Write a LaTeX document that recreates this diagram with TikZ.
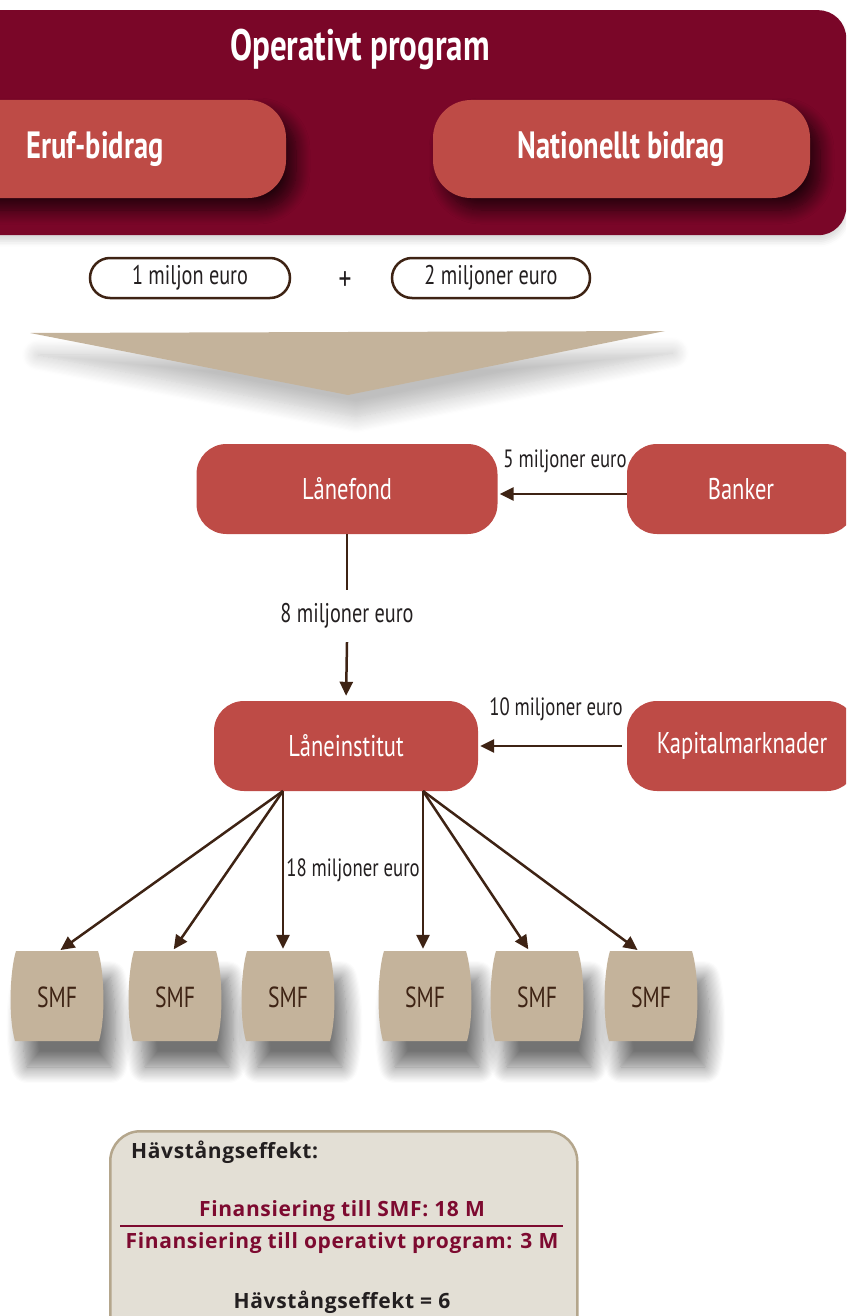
\documentclass[tikz,border=0pt]{standalone}
\usepackage{fontspec}
\setmainfont{PT Sans}[FakeStretch=0.75]
\newfontfamily\boxfont{Open Sans}[LetterSpace=3]
\usetikzlibrary{shadows.blur,arrows.meta,calc}
\definecolor{oproot}{RGB}{122,6,40}
\definecolor{boxred}{RGB}{190,75,70}
\definecolor{tanfill}{RGB}{196,179,155}
\definecolor{linebrown}{RGB}{62,35,20}
\definecolor{hbfill}{RGB}{227,223,213}
\definecolor{hbborder}{RGB}{180,166,140}
\definecolor{maroontext}{RGB}{125,10,48}
\definecolor{darktext}{RGB}{35,31,32}
\tikzset{
  redbox/.style={fill=boxred, text=white, rounded corners=30pt, minimum height=90pt,
    inner sep=0pt, font=\fontsize{30}{34}\selectfont},
  topbox/.style={fill=boxred, text=white, rounded corners=38pt, minimum height=98pt,
    inner sep=0pt, font=\fontsize{38}{42}\selectfont\bfseries,
    blur shadow={shadow xshift=10pt, shadow yshift=-12pt, shadow blur radius=14pt, shadow blur steps=14, shadow opacity=70}},
  pill/.style={draw=linebrown, line width=2.5pt, fill=white, rounded corners=20pt,
    minimum height=40pt, inner sep=0pt, text=darktext, font=\fontsize{27}{30}\selectfont},
  lbl/.style={text=darktext, inner sep=0pt, font=\fontsize{27}{30}\selectfont},
  slbl/.style={text=darktext, inner sep=0pt, font=\fontsize{25}{28}\selectfont},
  conn/.style={draw=linebrown, line width=2.5pt},
  arr/.style={conn, -{Triangle[length=14pt,width=13pt]}},
  smftext/.style={text=linebrown, inner sep=0pt, minimum width=90pt, minimum height=90pt,
    font=\fontsize{29}{32}\selectfont},
  hbtext/.style={inner sep=0pt, font=\boxfont\fontsize{21}{25}\selectfont\bfseries},
}
\begin{document}
\begin{tikzpicture}[x=1pt,y=-1pt]
\clip (0,0) rectangle (846,1316);
\useasboundingbox (0,0) rectangle (846,1316);

% Operative programme frame
\node[fill=oproot, rounded corners=28pt, minimum width=946pt, minimum height=225pt,
  anchor=north west, inner sep=0pt,
  blur shadow={shadow xshift=0pt, shadow yshift=-6pt, shadow blur radius=6pt, shadow opacity=15}]
  (op) at (-100,10) {};
\node[text=white, inner sep=0pt, font=\fontsize{44}{48}\selectfont\bfseries] (optitle) at (360,49) {Operativt program};
\node[topbox, minimum width=382pt] (eruf) at (95,149) {Eruf-bidrag};
\node[topbox, minimum width=377pt] (nat) at (621.5,149) {Nationellt bidrag};

% amounts
\node[pill, minimum width=200pt] (p1) at (190,278) {1 miljon euro};
\node[text=darktext, inner sep=0pt, font=\fontsize{34}{36}\selectfont] (plus) at (345,281) {+};
\node[pill, minimum width=198pt] (p2) at (491,278) {2 miljoner euro};

% funnel triangle
\fill[tanfill, blur shadow={shadow xshift=8pt, shadow yshift=-22pt, shadow blur radius=16pt, shadow blur steps=14, shadow opacity=25}]
  (30,333) -- (665,331) -- (348,395) -- cycle;

% Lånefond and Banker
\node[redbox, minimum width=301pt] (lf) at (347,489) {Lånefond};
\node[redbox, minimum width=228pt] (bk) at (741,489) {Banker};
\draw[arr] ($(bk.west)+(0,5)$) -- ($(lf.east)+(2,5)$);
\node[slbl] (l5) at (565,461) {5 miljoner euro};

% Lånefond -> Låneinstitut
\node[lbl, minimum height=52pt] (l8) at (347,616) {8 miljoner euro};
\node[redbox, minimum width=264pt] (li) at (346,746) {Låneinstitut};
\draw[conn] (lf.south) -- (l8.north);
\draw[arr, shorten >=5pt] (l8.south) -- (li.north);

% Kapitalmarknader
\node[redbox, minimum width=230pt] (km) at (742,746) {Kapitalmarknader};
\draw[arr] ($(km.west)+(-5,0)$) -- ($(li.east)+(2,0)$);
\node[slbl] (l10) at (556,709) {10 miljoner euro};

% SMF boxes
\foreach \i/\cx in {1/57, 2/175, 3/288, 4/425, 5/537, 6/651} {
  \fill[tanfill, blur shadow={shadow xshift=12pt, shadow yshift=-26pt, shadow blur radius=16pt, shadow blur steps=14, shadow opacity=55}]
    (\cx-41,951) -- (\cx+41,951) .. controls (\cx+47,970) and (\cx+49,1017) .. (\cx+42,1041)
    -- (\cx-42,1041) .. controls (\cx-49,1017) and (\cx-47,970) .. cycle;
  \node[smftext] (smf\i) at (\cx,997) {SMF};
}
\coordinate (la) at (283,791);
\coordinate (lb) at (423,791);
\draw[arr, shorten >=3pt] (la) -- ($(smf1.north)+(1,0)$);
\draw[arr, shorten >=3pt] (la) -- ($(smf2.north)+(-3,0)$);
\draw[arr, shorten >=3pt] (la) -- ($(smf3.north)+(-5,0)$);
\draw[arr, shorten >=3pt] (lb) -- ($(smf4.north)+(-2,0)$);
\draw[arr, shorten >=3pt] (lb) -- ($(smf5.north)+(-7,0)$);
\draw[arr, shorten >=3pt] (lb) -- ($(smf6.north)+(-11,0)$);
\node[slbl] (l18) at (353,870) {18 miljoner euro};

% Leverage box
\node[fill=hbfill, draw=hbborder, line width=2.5pt, rounded corners=30pt,
  minimum width=467pt, minimum height=250pt, anchor=north west, inner sep=0pt] (hb) at (109,1130) {};
\node[hbtext, text=darktext, anchor=west] (h1) at (131,1152) {Hävstångseffekt:};
\node[hbtext, text=maroontext] (f1) at (342,1211) {Finansiering till SMF: 18 M};
\node[hbtext, text=maroontext] (f2) at (342,1243) {Finansiering till operativt program: 3 M};
\draw[maroontext, line width=1.2pt] (120,1226) -- (563,1226);
\node[hbtext, text=darktext] (h2) at (342,1302) {Hävstångseffekt = 6};
\end{tikzpicture}
\end{document}
